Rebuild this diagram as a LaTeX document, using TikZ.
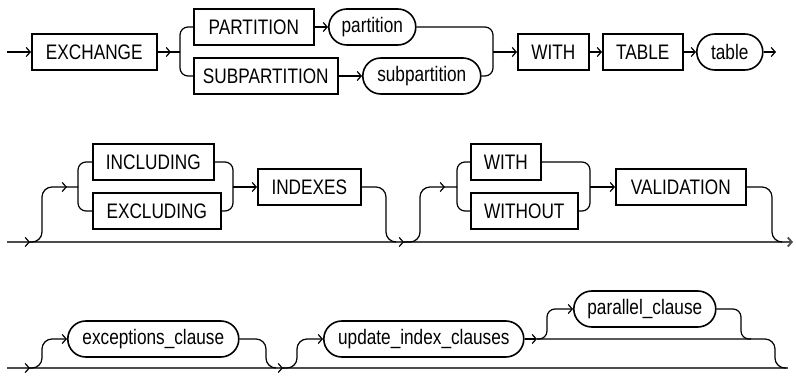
\documentclass[tikz,border=0pt]{standalone}
\usepackage{fontspec}
\setmainfont{Liberation Sans}[FakeStretch=0.82]
\usetikzlibrary{arrows.meta, decorations.markings}

\begin{document}
\begin{tikzpicture}[
  x=1pt, y=-1pt,
  >={Straight Barb[length=4pt,width=9pt]},
  font=\fontsize{21}{24}\selectfont,
  keyword/.style={draw, line width=1.6pt, minimum height=36pt, inner sep=0pt, anchor=west},
  clause/.style={keyword, rounded corners=18pt},
  link/.style={line width=1.2pt},
  rail/.style={line width=1.8pt, draw=black!70},
  tipat/.style={postaction={decorate, decoration={markings,
      mark=at position #1 with {\arrow[black, line width=1.2pt]{>}}}}},
]
  \useasboundingbox (0,0) rectangle (796,377);

  % first row: EXCHANGE ... WITH TABLE table
  \coordinate (start1) at (7,52);
  \coordinate (split1) at (180,52);
  \coordinate (join1) at (493,52);
  \coordinate (end1) at (776,52);
  \node[keyword, minimum width=125pt] (exchange) at (31,52) {EXCHANGE};
  \node[keyword, minimum width=120pt] (partkw) at (193,27) {PARTITION};
  \node[keyword, minimum width=144pt] (subkw) at (193,76) {SUBPARTITION};
  \node[clause, minimum width=87pt] (part) at (328,27) {partition};
  \node[clause, minimum width=118pt] (subpart) at (362,76) {subpartition};
  \node[keyword, minimum width=71pt] (with) at (517,52) {WITH};
  \node[keyword, minimum width=80pt] (tablekw) at (602,52) {TABLE};
  \node[clause, minimum width=66pt] (table) at (696,52) {table};

  \draw[link, ->] (start1) -- (exchange);
  \draw[link, tipat=-9pt] (exchange) -- (split1);
  \draw[link, rounded corners=8pt] (split1) |- (partkw.west);
  \draw[link, rounded corners=8pt] (split1) |- (subkw.west);
  \draw[link, ->] (partkw) -- (part);
  \draw[link, ->] (subkw) -- (subpart);
  \draw[link, rounded corners=8pt] (part.east) -| (join1);
  \draw[link, rounded corners=8pt] (subpart.east) -| (join1);
  \draw[link, ->] (join1) -- (with);
  \draw[link, ->] (with) -- (tablekw);
  \draw[link, ->] (tablekw) -- (table);
  \draw[link, ->] (table) -- (end1);

  % second row: INCLUDING/EXCLUDING INDEXES, WITH/WITHOUT VALIDATION
  \coordinate (start2) at (7,242);
  \coordinate (end2) at (793,242);
  \coordinate (skip2a) at (30,242);
  \coordinate (split2) at (78,187);
  \coordinate (join2) at (233,187);
  \coordinate (skip2b) at (404,242);
  \coordinate (split3) at (457,187);
  \coordinate (join3) at (590,187);
  \node[keyword, minimum width=121pt] (incl) at (92,162) {INCLUDING};
  \node[keyword, minimum width=128pt] (excl) at (92,211) {EXCLUDING};
  \node[keyword, minimum width=103pt] (indexes) at (257,187) {INDEXES};
  \node[keyword, minimum width=70pt] (withkw) at (470,162) {WITH};
  \node[keyword, minimum width=107pt] (without) at (470,211) {WITHOUT};
  \node[keyword, minimum width=130pt] (validation) at (615,187) {VALIDATION};

  \draw[rail, ->, tipat=23pt, tipat=397pt] (start2) -- (end2);
  \draw[link, rounded corners=10pt, tipat=-11pt] (skip2a) -| (42,187) -- (split2);
  \draw[link, rounded corners=8pt] (split2) |- (incl.west);
  \draw[link, rounded corners=8pt] (split2) |- (excl.west);
  \draw[link, rounded corners=8pt] (incl.east) -| (join2);
  \draw[link, rounded corners=8pt] (excl.east) -| (join2);
  \draw[link, ->] (join2) -- (indexes);
  \draw[link, rounded corners=10pt] (indexes.east) -| (386,242) -- (396,242);
  \draw[link, rounded corners=10pt, tipat=-12pt] (skip2b) -| (420,187) -- (split3);
  \draw[link, rounded corners=8pt] (split3) |- (withkw.west);
  \draw[link, rounded corners=8pt] (split3) |- (without.west);
  \draw[link, rounded corners=8pt] (withkw.east) -| (join3);
  \draw[link, rounded corners=8pt] (without.east) -| (join3);
  \draw[link, ->] (join3) -- (validation);
  \draw[link, rounded corners=10pt] (validation.east) -| (772,242) -- (782,242);

  % third row: exceptions_clause, update_index_clauses, parallel_clause
  \coordinate (start3) at (7,368);
  \coordinate (end3) at (788,368);
  \coordinate (skip3a) at (30,368);
  \coordinate (skip3b) at (283,368);
  \coordinate (split4) at (537,339);
  \node[clause, minimum width=171pt] (exceptions) at (67,339) {exceptions\_clause};
  \node[clause, minimum width=200pt] (update) at (323,339) {update\_index\_clauses};
  \node[clause, minimum width=142pt] (parallel) at (573,309) {parallel\_clause};

  \draw[rail, tipat=23pt, tipat=276pt] (start3) -- (end3);
  \draw[link, rounded corners=10pt, ->] (skip3a) -| (42,339) -- (exceptions.west);
  \draw[link, rounded corners=10pt] (exceptions.east) -| (266,368) -- (276,368);
  \draw[link, rounded corners=10pt, ->] (skip3b) -| (297,339) -- (update.west);
  \draw[link, ->] (update) -- (split4);
  \draw[link, rounded corners=8pt, ->] (split4) -| (547,309) -- (parallel.west);
  \draw[link, rounded corners=8pt] (parallel.east) -| (741,339) -- (751,339);
  \draw[link, rounded corners=10pt] (split4) -| (775,368) -- (786,368);
\end{tikzpicture}
\end{document}
